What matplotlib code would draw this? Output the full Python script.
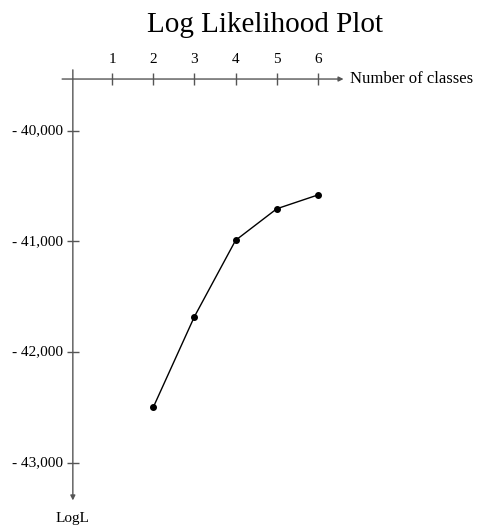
import numpy as np
import matplotlib.pyplot as plt

plt.rcParams['font.family'] = ['Liberation Serif', 'DejaVu Serif']

# log likelihood by number of classes
classes = [2, 3, 4, 5, 6]
logl = [-42500, -41680, -40990, -40705, -40580]
x_ticks = [1, 2, 3, 4, 5, 6]
y_ticks = [-40000, -41000, -42000, -43000]
y_labels = ['- 40,000', '- 41,000', '- 42,000', '- 43,000']

fig = plt.figure(figsize=(4.8, 5.27), dpi=100)
ax = fig.add_axes([0, 0, 1, 1])
ax.set_xlim(-1.718, 9.932)
ax.set_ylim(-43580, -38819)
ax.axis('off')

axis_col = '#555555'
x_axis_y = -39533
y_axis_x = 0.05

# x axis along the top, pointing right
ax.annotate('', xy=(6.62, x_axis_y), xytext=(-0.21, x_axis_y),
            arrowprops=dict(arrowstyle='-|>', color=axis_col, lw=1.0,
                            mutation_scale=7, shrinkA=0, shrinkB=0))
# y axis pointing down
ax.annotate('', xy=(y_axis_x, -43340), xytext=(y_axis_x, -39450),
            arrowprops=dict(arrowstyle='-|>', color=axis_col, lw=1.0,
                            mutation_scale=7, shrinkA=0, shrinkB=0))

ax.plot(x_ticks, [x_axis_y] * len(x_ticks), ls='none', marker='|',
        ms=8, mew=1.0, color=axis_col)
for t in x_ticks:
    ax.annotate(str(t), (t, x_axis_y), xytext=(0, 14), textcoords='offset points',
                ha='center', va='center', fontsize=11)

ax.plot([y_axis_x] * len(y_ticks), y_ticks, ls='none', marker='_',
        ms=9, mew=1.0, color=axis_col)
for v, lab in zip(y_ticks, y_labels):
    ax.annotate(lab, (y_axis_x, v), xytext=(-7, 0), textcoords='offset points',
                ha='right', va='center', fontsize=11)

ax.annotate('Number of classes', (6.62, x_axis_y), xytext=(5, 0),
            textcoords='offset points', ha='left', va='center', fontsize=12)
ax.annotate('LogL', (y_axis_x, -43340), xytext=(0, -13),
            textcoords='offset points', ha='center', va='center', fontsize=11)

ax.plot(classes, logl, color='black', lw=1.0, marker='o', ms=4)

fig.text(265 / 480, 1 - 25 / 527, 'Log Likelihood Plot', ha='center', va='center',
         fontsize=21)

fig.savefig('out.png', dpi=100)
